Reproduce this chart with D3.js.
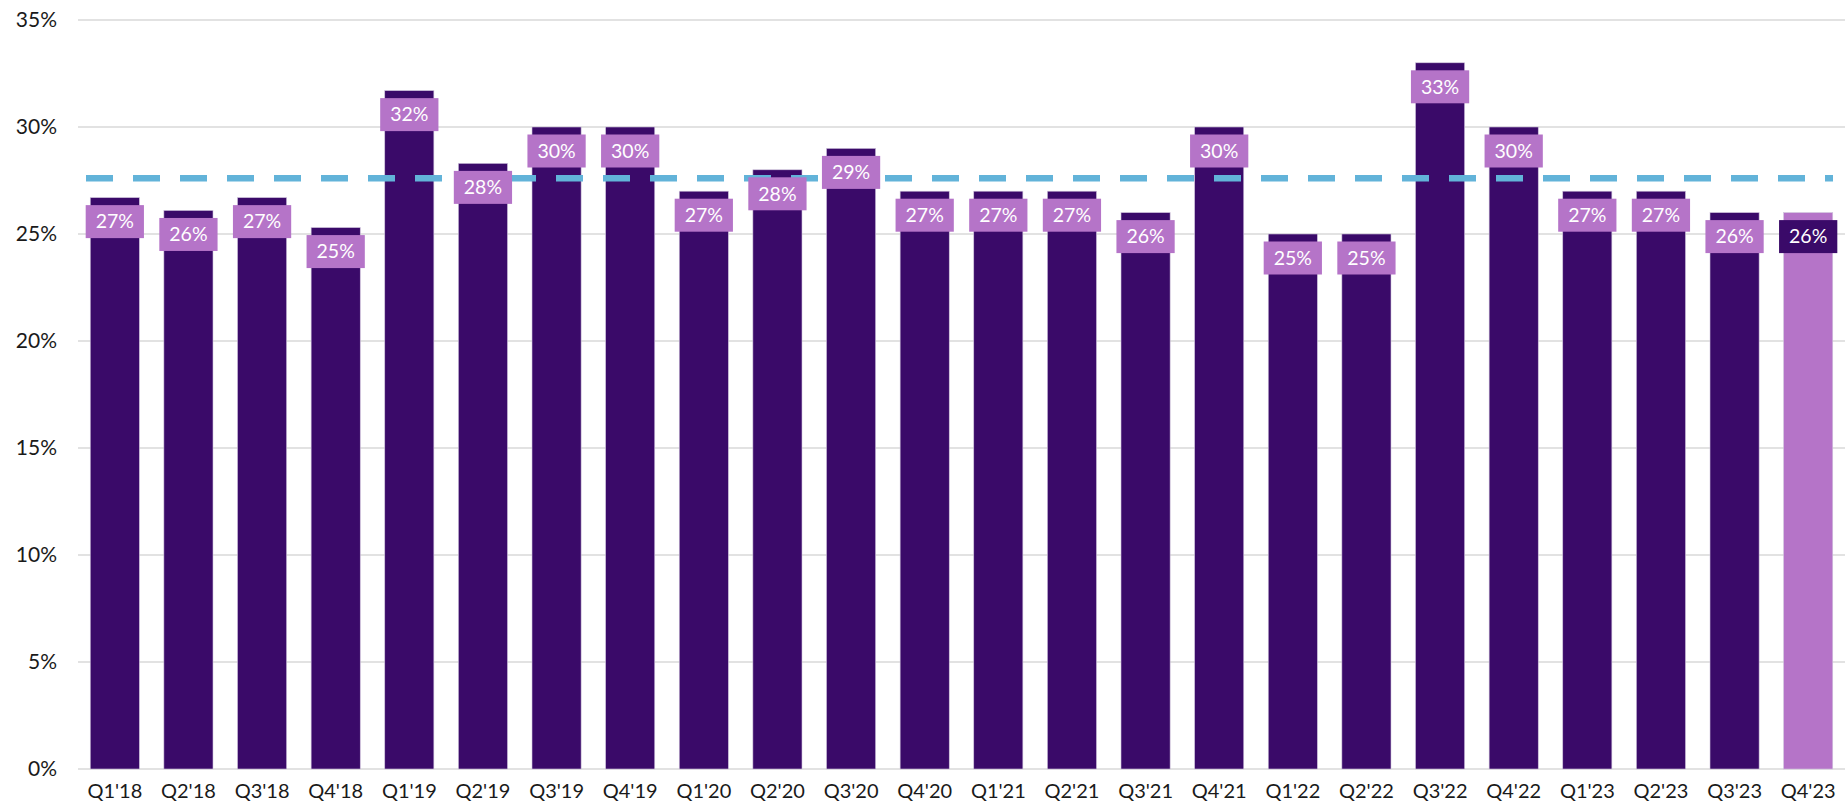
<!DOCTYPE html>
<html><head><meta charset="utf-8">
<script src="https://cdn.jsdelivr.net/npm/d3@7"></script>
<style>body{margin:0;background:#fff;} svg{display:block;}</style>
</head><body>
<svg id="c" width="1846" height="810"></svg>
<script>
const categories = ["Q1'18","Q2'18","Q3'18","Q4'18","Q1'19","Q2'19","Q3'19","Q4'19","Q1'20","Q2'20","Q3'20","Q4'20","Q1'21","Q2'21","Q3'21","Q4'21","Q1'22","Q2'22","Q3'22","Q4'22","Q1'23","Q2'23","Q3'23","Q4'23"];
const values = [26.7,26.1,26.7,25.3,31.7,28.3,30.0,30.0,27.0,28.0,29.0,27.0,27.0,27.0,26.0,30.0,25.0,25.0,33.0,30.0,27.0,27.0,26.0,26.0];
const average = 27.6;
const yTicks = [0,5,10,15,20,25,30,35];

const svg = d3.select("#c");
const font = "Lato, 'DejaVu Sans', sans-serif";
const dark = "#3a0a69", light = "#b574c8";
const x = d3.scaleBand().domain(categories).range([78,1845]).paddingInner(0.333).paddingOuter(0.1665);
const y = d3.scaleLinear().domain([0,35]).range([769,20]);

// gridlines
svg.append("g").selectAll("line").data(yTicks).join("line")
  .attr("x1",78).attr("x2",1845).attr("y1",d=>y(d)).attr("y2",d=>y(d))
  .attr("stroke","#d9d9d9").attr("stroke-width",1.5);

// y axis labels
const yAxis = d3.axisLeft(y).tickValues(yTicks).tickFormat(d=>d+"%").tickSize(0).tickPadding(0);
const ya = svg.append("g").attr("transform","translate(57,0)").call(yAxis);
ya.select(".domain").remove();
ya.selectAll("text").attr("font-family",font).attr("font-size",21).attr("fill","#1a1a1a");

// x axis labels
const xAxis = d3.axisBottom(x).tickSize(0).tickPadding(0);
const xa = svg.append("g").attr("transform","translate(0,784)").call(xAxis);
xa.select(".domain").remove();
xa.selectAll("text").attr("font-family",font).attr("font-size",20).attr("fill","#1a1a1a").attr("dy","0.71em");

const isLast = (i)=> i===categories.length-1;

// bars
svg.append("g").selectAll("rect").data(values).join("rect")
  .attr("x",(d,i)=>x(categories[i])).attr("width",x.bandwidth())
  .attr("y",d=>y(d)).attr("height",d=>y(0)-y(d))
  .attr("fill",(d,i)=>isLast(i)?light:dark)
  .attr("stroke","#cfc3dc").attr("stroke-width",0.6);

// average dashed line
svg.append("line").attr("x1",86).attr("x2",1833).attr("y1",y(average)).attr("y2",y(average))
  .attr("stroke","#62b3d9").attr("stroke-width",6.5).attr("stroke-dasharray","27 20");

// labels
const lg = svg.append("g");
values.forEach((v,i)=>{
  const cx = x(categories[i]) + x.bandwidth()/2;
  const top = y(v) + 7.5;
  const g = lg.append("g");
  const r = g.append("rect");
  const t = g.append("text").attr("x",cx).attr("y",top+16.5).attr("dy","0.35em")
    .attr("text-anchor","middle").attr("font-family",font).attr("font-size",19.5)
    .attr("fill","#fff").text(Math.round(v)+"%");
  const w = t.node().getComputedTextLength() + 20;
  r.attr("x",cx-w/2).attr("y",top).attr("width",w).attr("height",33)
   .attr("fill",isLast(i)?dark:light);
});
</script>
</body></html>
